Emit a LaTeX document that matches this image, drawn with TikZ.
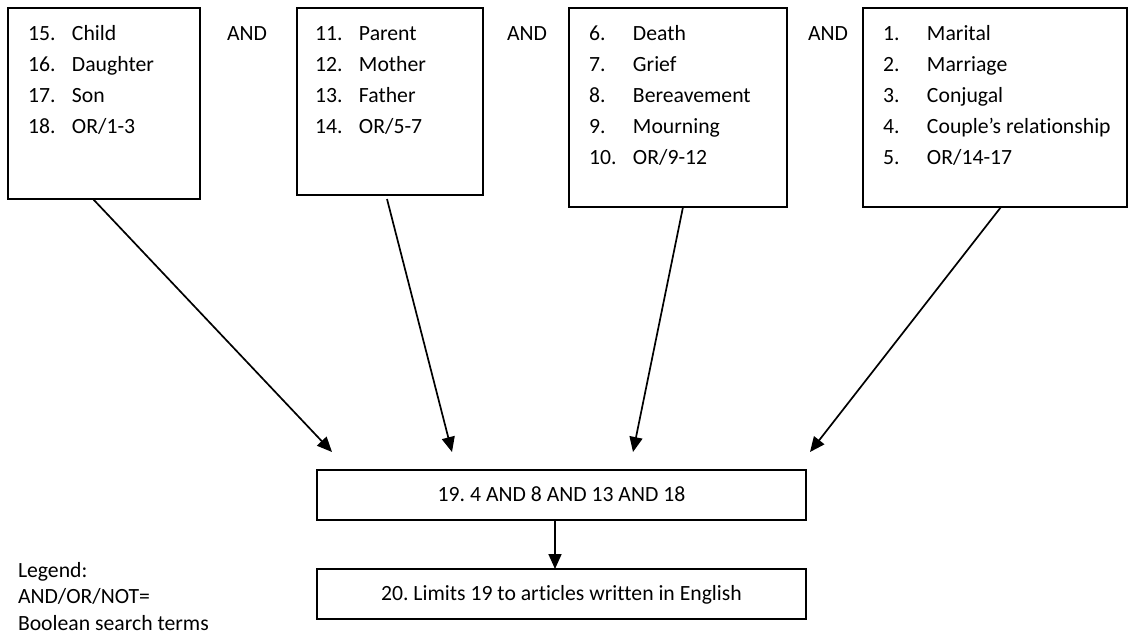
\documentclass[tikz,border=0pt]{standalone}
\usepackage{fontspec}
\setmainfont{Carlito}[Ligatures={NoCommon}]
\usetikzlibrary{arrows.meta}
\tikzset{
  box/.style={draw=black, line width=1.4pt, rectangle, inner sep=0pt, outer sep=0pt},
  txt/.style={anchor=base west, inner sep=0pt, outer sep=0pt, font=\fontsize{21.7}{31}\selectfont},
  lbl/.style={anchor=base, inner sep=0pt, outer sep=0pt, font=\fontsize{21.7}{31}\selectfont},
  conn/.style={line width=1.7pt, -{Triangle[length=15pt,width=13pt]}}
}
\newcommand{\itm}[2]{\makebox[44pt][l]{#1}#2}
\frenchspacing
\begin{document}
\begin{tikzpicture}[x=1pt,y=-1pt]
\useasboundingbox (0,0) rectangle (1129,637);
% boxes
\node[box, minimum width=192pt, minimum height=191pt] (b1) at (104,103.5) {};
\node[box, minimum width=186pt, minimum height=187pt] (b2) at (390,101.5) {};
\node[box, minimum width=218pt, minimum height=199pt] (b3) at (678,107.5) {};
\node[box, minimum width=264pt, minimum height=199pt] (b4) at (995,107.5) {};
\node[box, minimum width=489pt, minimum height=50pt] (c19) at (561.5,495) {};
\node[box, minimum width=489pt, minimum height=50pt] (c20) at (561.5,594) {};
% lists
\node[txt] (l1) at (28,40) {\begin{tabular}[t]{@{}l@{}}
\itm{15.}{Child}\\ \itm{16.}{Daughter}\\ \itm{17.}{Son}\\ \itm{18.}{OR/1-3}\end{tabular}};
\node[txt] (l2) at (315,40) {\begin{tabular}[t]{@{}l@{}}
\itm{11.}{Parent}\\ \itm{12.}{Mother}\\ \itm{13.}{Father}\\ \itm{14.}{OR/5-7}\end{tabular}};
\node[txt] (l3) at (589,40) {\begin{tabular}[t]{@{}l@{}}
\itm{6.}{Death}\\ \itm{7.}{Grief}\\ \itm{8.}{Bereavement}\\ \itm{9.}{Mourning}\\ \itm{10.}{OR/9-12}\end{tabular}};
\node[txt] (l4) at (883,40) {\begin{tabular}[t]{@{}l@{}}
\itm{1.}{Marital}\\ \itm{2.}{Marriage}\\ \itm{3.}{Conjugal}\\ \itm{4.}{Couple’s relationship}\\ \itm{5.}{OR/14-17}\end{tabular}};
% AND labels
\node[lbl] (a1) at (247,40) {AND};
\node[lbl] (a2) at (527,40) {AND};
\node[lbl] (a3) at (828,40) {AND};
% bottom texts
\node[lbl] (t19) at (561.5,501) {19. 4 AND 8 AND 13 AND 18};
\node[lbl] (t20) at (561.5,600) {20. Limits 19 to articles written in English};
% legend
\node[txt, font=\fontsize{21.7}{26.7}\selectfont] (leg) at (18,577) {\begin{tabular}[t]{@{}l@{}}
Legend:\\ AND/OR/NOT=\\ Boolean search terms\end{tabular}};
% arrow tips
\coordinate (e1) at (332,452);
\coordinate (e2) at (452,452);
\coordinate (e3) at (633,452);
\coordinate (e4) at (810,452);
\draw[conn] ([xshift=-11pt]b1.south) -- (e1);
\draw[conn] ([xshift=-3pt,yshift=-4pt]b2.south) -- (e2);
\draw[conn] ([xshift=5pt]b3.south) -- (e3);
\draw[conn] ([xshift=6pt]b4.south) -- (e4);
\draw[conn] ([xshift=-6.5pt]c19.south) -- ([xshift=-6.5pt]c20.north);
\end{tikzpicture}
\end{document}
